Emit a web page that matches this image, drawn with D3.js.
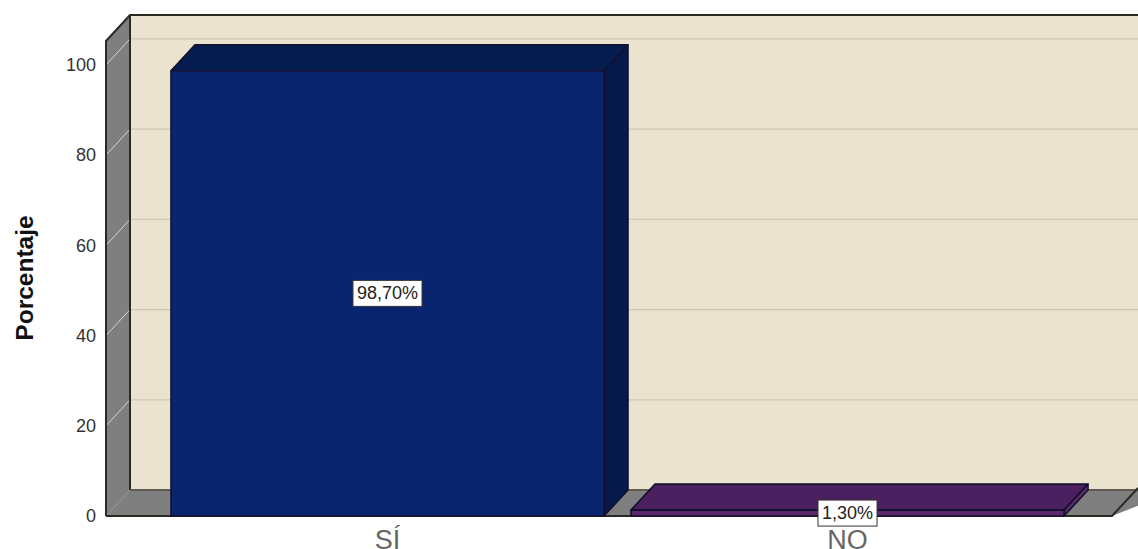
<!DOCTYPE html>
<html><head><meta charset="utf-8">
<script src="https://cdn.jsdelivr.net/npm/d3@7"></script>
<style>html,body{margin:0;padding:0;background:#fff;overflow:hidden}svg{display:block}text{font-family:"Liberation Sans",Arial,sans-serif}</style>
</head><body><svg id="c" width="1138" height="549"></svg>
<script>
const categories=["SÍ","NO"];
const percentages=[98.7,1.3];
const valueLabels=["98,70%","1,30%"];
const yTicks=[0,20,40,60,80,100];
const yAxisTitle="Porcentaje";
const faceColors=[{front:"#0a2570",top:"#051c50",side:"#051a4a"},{front:"#5c2a6c",top:"#4b2060",side:"#5c2a6c"}];

const W=1138,H=549,dx=24,dy=-26,pLeft=106,pRight=1112,pBottom=516,pTop=41;
const svg=d3.select("#c");
const y=d3.scaleLinear().domain([0,105.3]).range([pBottom,pTop]);
const x=d3.scaleBand().domain(categories).range([157.5,1077.5]).paddingInner(.0587).paddingOuter(.0293);
const poly=p=>p.map(q=>q.join(",")).join(" ");

// walls
svg.append("rect").attr("x",pLeft+dx).attr("y",pTop+dy).attr("width",W).attr("height",pBottom-pTop).attr("fill","#e9e3cf");
svg.append("polygon").attr("points",poly([[pLeft,pTop],[pLeft+dx,pTop+dy],[pLeft+dx,pBottom+dy],[pLeft,pBottom]])).attr("fill","#7f7f7f");
svg.append("polygon").attr("points",poly([[pLeft,pBottom],[pLeft+dx,pBottom+dy],[W+40,pBottom+dy],[pRight,pBottom]])).attr("fill","#7f7f7f");
// gridlines
const grid=yTicks.filter(t=>t>0);
svg.selectAll(".g").data(grid).join("line").attr("x1",pLeft+dx).attr("x2",W).attr("y1",d=>y(d)+dy).attr("y2",d=>y(d)+dy).attr("stroke","#cdc7b3").attr("stroke-width",1.3);
svg.selectAll(".s").data(grid).join("line").attr("x1",pLeft).attr("x2",pLeft+dx).attr("y1",d=>y(d)).attr("y2",d=>y(d)+dy).attr("stroke","#d5d5d0").attr("stroke-width",1);
// frame
const fr="#2a2a22";
svg.append("path").attr("d",`M${pLeft},${pBottom}V${pTop}L${pLeft+dx},${pTop+dy}H${W}M${pLeft+dx},${pTop+dy}V${pBottom+dy}`).attr("fill","none").attr("stroke",fr).attr("stroke-width",2);
svg.append("path").attr("d",`M${pLeft+dx},${pBottom+dy}H${W}`).attr("stroke","#5e5c50").attr("stroke-width",2);
svg.append("path").attr("d",`M${pLeft},${pBottom}H${pRight}L${pRight+dx+2},${pBottom+dy-2}`).attr("fill","none").attr("stroke",fr).attr("stroke-width",2);

// bars
const bars=svg.selectAll(".bar").data(categories.map((c,i)=>({c,v:percentages[i],l:valueLabels[i],col:faceColors[i]}))).join("g");
bars.each(function(d){
  const g=d3.select(this),x0=x(d.c),x1=x0+x.bandwidth(),yt=y(d.v),st={stroke:"#14102e","stroke-width":1.6,"stroke-linejoin":"round"};
  const add=(pts,f)=>{const p=g.append("polygon").attr("points",poly(pts)).attr("fill",f);for(const k in st)p.attr(k,st[k]);};
  add([[x0,yt],[x0+dx,yt+dy],[x1+dx,yt+dy],[x1,yt]],d.col.top);
  add([[x1,yt],[x1+dx,yt+dy],[x1+dx,pBottom+dy],[x1,pBottom]],d.col.side);
  add([[x0,yt],[x1,yt],[x1,pBottom],[x0,pBottom]],d.col.front);
});
// value labels
bars.each(function(d){
  const g=d3.select(this),cx=x(d.c)+x.bandwidth()/2,cy=y(d.v/2),t=g.append("text").attr("x",cx).attr("y",cy+6).attr("text-anchor","middle").attr("font-size",18).attr("fill","#222").text(d.l);
  const w=t.node().getComputedTextLength()+8;
  g.insert("rect","text").attr("x",cx-w/2).attr("y",cy-13).attr("width",w).attr("height",26).attr("fill","#fff").attr("stroke","#333").attr("stroke-width",1);
});
// axes
const ax=svg.append("g").attr("transform",`translate(${pLeft},0)`).call(d3.axisLeft(y).tickValues(yTicks).tickSize(0).tickPadding(10));
ax.select(".domain").remove();
ax.selectAll("text").attr("font-size",18).attr("fill","#333").style("font-family",'"Liberation Sans"');
const bx=svg.append("g").attr("transform",`translate(0,${pBottom})`).call(d3.axisBottom(x).tickSize(0).tickPadding(14));
bx.select(".domain").remove();
bx.selectAll("text").attr("font-size",27).attr("fill","#666").style("font-family",'"Liberation Sans"');
svg.append("text").attr("transform","translate(33,278) rotate(-90)").attr("text-anchor","middle").attr("font-size",24.5).attr("font-weight","bold").attr("fill","#111").text(yAxisTitle);
</script></body></html>
